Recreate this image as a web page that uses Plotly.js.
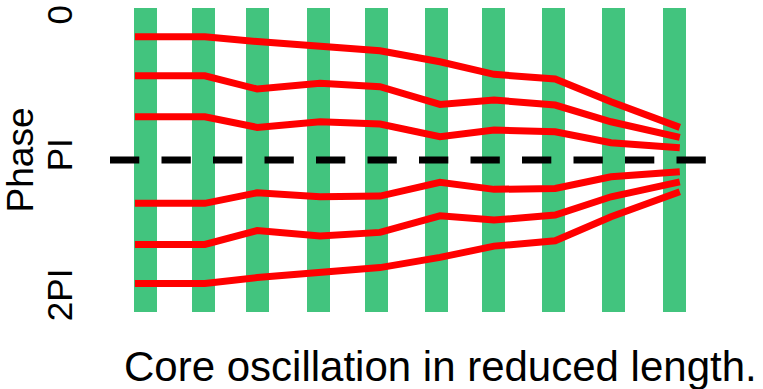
<!DOCTYPE html>
<html>
<head>
<meta charset="utf-8">
<script src="https://cdn.plot.ly/plotly-3.0.1.min.js"></script>
<style>html,body{margin:0;padding:0;background:#fff;}#chart{width:763px;height:389px;}</style>
</head>
<body>
<div id="chart"></div>
<script>
// Positions (in reduced length units) of the green core bars
const barX = [0, 0.99, 1.91, 2.94, 3.93, 4.95, 5.92, 6.94, 7.96, 9.0];
const barLow = -0.27;   // phase where the bars start
const barHigh = 6.55;   // phase where the bars end

// x positions of the red line vertices
const lineX = [-0.18, 1.01, 1.9, 2.97, 3.99, 5.01, 5.93, 6.97, 7.92, 9.09];

// Phase (radians) of each red line at each vertex
const phase1 = [0.375, 0.375, 0.482, 0.583, 0.689, 0.936, 1.218, 1.324, 1.833, 2.408];
const phase2 = [1.250, 1.250, 1.548, 1.420, 1.497, 1.892, 1.795, 1.907, 2.282, 2.632];
const phase3 = [2.170, 2.170, 2.408, 2.282, 2.334, 2.619, 2.468, 2.507, 2.753, 2.866];
const phase4 = [4.113, 4.113, 3.875, 3.965, 3.949, 3.642, 3.799, 3.777, 3.516, 3.404];
const phase5 = [5.033, 5.033, 4.724, 4.847, 4.764, 4.392, 4.488, 4.376, 3.965, 3.629];
const phase6 = [5.909, 5.909, 5.778, 5.648, 5.554, 5.325, 5.072, 4.953, 4.414, 3.853];

const tickVals = [0, Math.PI, 2 * Math.PI];
const tickText = ['0', 'PI', '2PI'];
const refPhase = Math.PI;

const FONT = 'Liberation Sans, Arial, Helvetica, sans-serif';

const traces = [];
traces.push({
  type: 'bar',
  x: barX,
  base: barX.map(() => barLow),
  y: barX.map(() => barHigh - barLow),
  width: 0.39,
  marker: {color: '#42C47E', line: {width: 0}},
  hoverinfo: 'skip',
  showlegend: false
});
[phase1, phase2, phase3, phase4, phase5, phase6].forEach((p) => {
  traces.push({
    type: 'scatter',
    mode: 'lines',
    x: lineX,
    y: p,
    line: {color: '#FF0000', width: 7},
    showlegend: false
  });
});

const layout = {
  width: 763,
  height: 389,
  margin: {l: 110, r: 57, t: 8, b: 77},
  paper_bgcolor: '#ffffff',
  plot_bgcolor: '#ffffff',
  font: {family: FONT, color: '#000000'},
  showlegend: false,
  bargap: 0,
  xaxis: {
    range: [-0.604, 9.536],
    showgrid: false,
    zeroline: false,
    showline: false,
    showticklabels: false,
    ticks: ''
  },
  yaxis: {
    range: [barHigh, barLow],
    showgrid: false,
    zeroline: false,
    showline: false,
    tickmode: 'array',
    tickvals: tickVals,
    ticktext: tickText,
    tickangle: -90,
    ticks: '',
    ticklabelstandoff: 30,
    tickfont: {size: 35, family: FONT, color: '#000'},
    title: {text: 'Phase', font: {size: 37, family: FONT, color: '#000'}, standoff: 0},
    automargin: false
  },
  shapes: [{
    type: 'line',
    xref: 'paper', x0: 0, x1: 1,
    yref: 'y', y0: refPhase, y1: refPhase,
    line: {color: '#000000', width: 7, dash: '29.3px,22.2px'},
    layer: 'above'
  }],
  annotations: [{
    text: 'Core oscillation in reduced length.',
    xref: 'paper', yref: 'paper',
    x: 0.554, y: -0.178,
    xanchor: 'center', yanchor: 'middle',
    showarrow: false,
    font: {size: 42, family: FONT, color: '#000'}
  }]
};

Plotly.newPlot('chart', traces, layout, {staticPlot: true, displayModeBar: false});
</script>
</body>
</html>
